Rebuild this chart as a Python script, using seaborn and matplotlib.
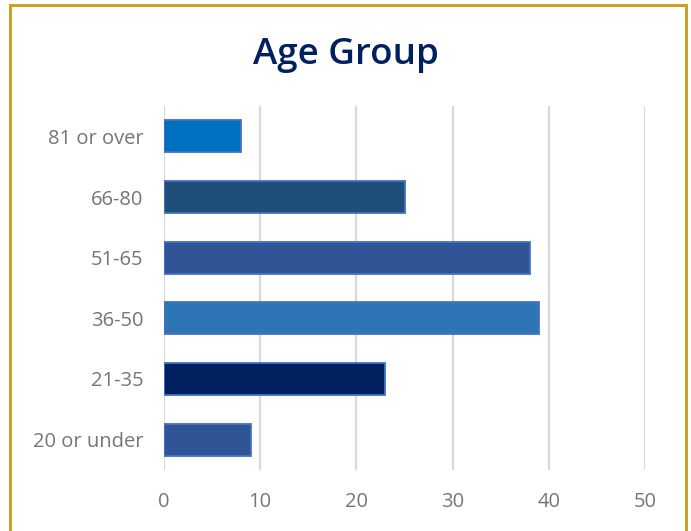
import matplotlib

matplotlib.use("Agg")
import matplotlib.pyplot as plt
import pandas as pd
import seaborn as sns
from matplotlib.patches import Rectangle

# data, top to bottom as in the chart
age_groups = ["81 or over", "66-80", "51-65", "36-50", "21-35", "20 or under"]
counts = [8, 25, 38, 39, 23, 9]
bar_colors = ["#0070C0", "#1F4E79", "#2F5597", "#2E75B6", "#002060", "#2F5597"]
x_ticks = [0, 10, 20, 30, 40, 50]

df = pd.DataFrame({"group": age_groups, "count": counts})

sns.set_style("white")
plt.rcParams["font.family"] = ["Open Sans", "DejaVu Sans"]

fig = plt.figure(figsize=(6.91, 5.31), dpi=100)
ax = fig.add_axes([164 / 691, 1 - 470 / 531, (645 - 164) / 691, (470 - 106) / 531])

sns.barplot(
    data=df,
    x="count",
    y="group",
    hue="group",
    order=age_groups,
    palette=bar_colors,
    saturation=1,
    legend=False,
    width=0.53,
    edgecolor="#4472C4",
    linewidth=1.3,
    ax=ax,
)

ax.set_xlim(0, 50)
ax.set_xticks(x_ticks)
ax.xaxis.grid(True, color="#D9D9D9", linewidth=1.6)
ax.yaxis.grid(False)
ax.set_axisbelow(True)
for s in ax.spines.values():
    s.set_visible(False)
ax.tick_params(axis="x", length=0, pad=16, labelsize=14.5, labelcolor="#767676")
ax.tick_params(axis="y", length=0, pad=15, labelsize=14.5, labelcolor="#767676")
ax.set_xlabel("")
ax.set_ylabel("")

fig.text(0.5, 1 - 55 / 531, "Age Group", ha="center", va="center",
         fontsize=26.5, fontweight="semibold", color="#002060")

# gold frame around the chart
fig.patches.append(Rectangle((10 / 691, -0.05), (686 - 10) / 691, 1.05 - 5 / 531,
                             transform=fig.transFigure, fill=False,
                             edgecolor="#C9A227", linewidth=2.2))

fig.savefig("out.png", dpi=100)
plt.close(fig)
